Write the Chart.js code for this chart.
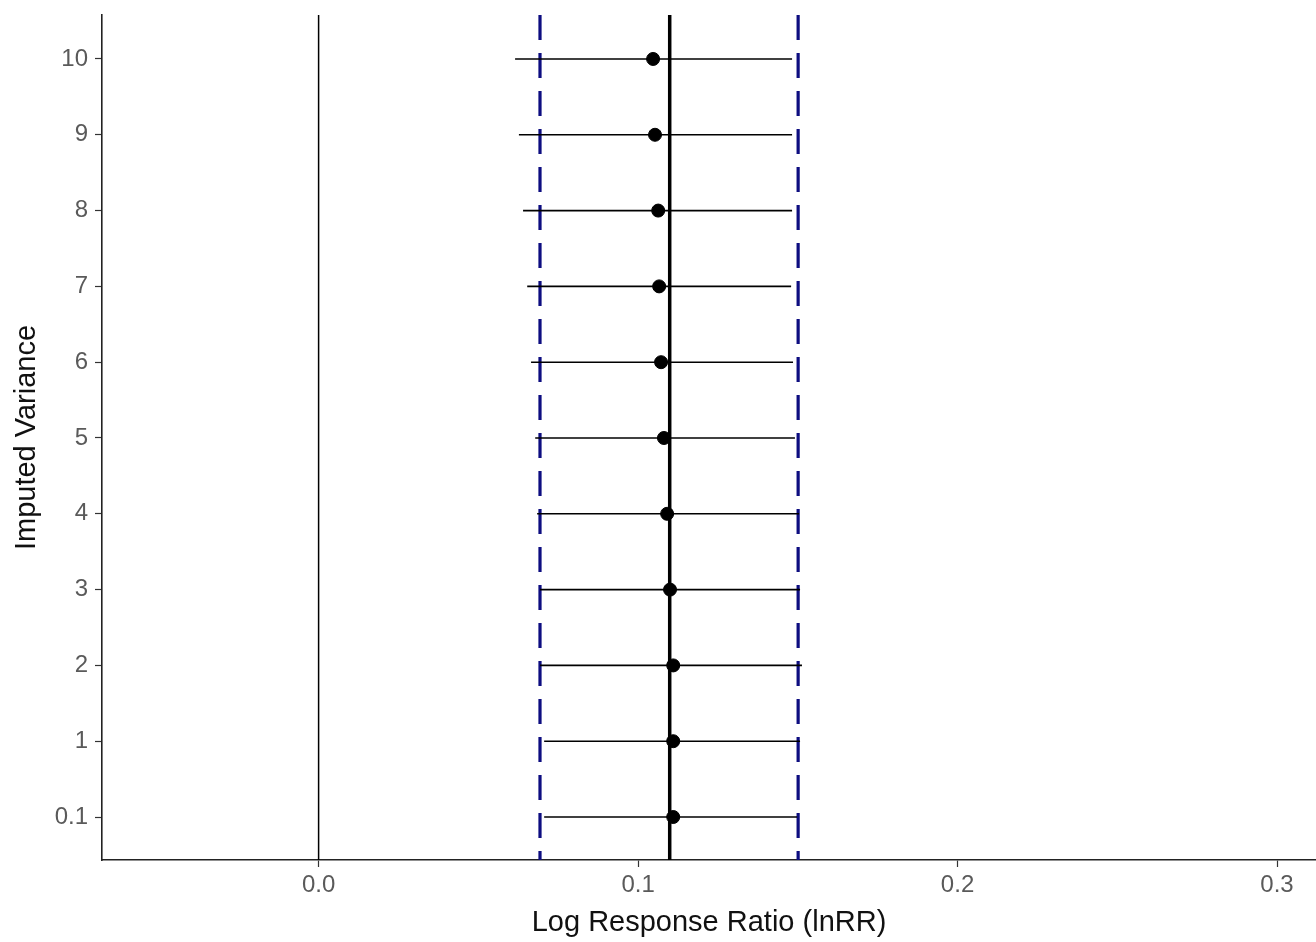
<!DOCTYPE html>
<html>
<head>
<meta charset="utf-8">
<script src="https://cdn.jsdelivr.net/npm/chart.js@4"></script>
<style>
  body { margin: 0; background: #fff; }
  canvas { display: block; }
</style>
</head>
<body>
<canvas id="forest" width="1316" height="942"></canvas>
<script>
// imputed variance levels, bottom to top
const variances = ['0.1', '1', '2', '3', '4', '5', '6', '7', '8', '9', '10'];
const estimates = [0.1110, 0.1110, 0.1110, 0.1100, 0.1091, 0.1081, 0.1072, 0.1066, 0.1063, 0.1053, 0.1047];
const ciLower = [0.0706, 0.0706, 0.0693, 0.0693, 0.0684, 0.0678, 0.0665, 0.0653, 0.0640, 0.0627, 0.0615];
const ciUpper = [0.1498, 0.1507, 0.1513, 0.1507, 0.1504, 0.1491, 0.1485, 0.1479, 0.1482, 0.1482, 0.1482];

// reference lines
const nullEffect = 0;
const pooledEstimate = 0.1099;
const pooledLower = 0.0693;
const pooledUpper = 0.1501;

const xTicks = [0, 0.1, 0.2, 0.3];

const tickFont = { family: 'Liberation Sans, Arial, sans-serif', size: 24 };
const titleFont = { family: 'Liberation Sans, Arial, sans-serif', size: 29 };

// one short line per row for the confidence interval
const ciSets = variances.map((v, i) => ({
    type: 'line',
    data: [{ x: ciLower[i], y: i }, { x: ciUpper[i], y: i }],
    borderColor: '#000',
    borderWidth: 1.6,
    pointRadius: 0,
    order: 2
}));

const vLines = {
    id: 'vLines',
    beforeDatasetsDraw(chart) {
        const { ctx, chartArea, scales } = chart;
        const draw = (val, color, width, dash) => {
            const px = scales.x.getPixelForValue(val);
            ctx.save();
            ctx.strokeStyle = color;
            ctx.lineWidth = width;
            ctx.setLineDash(dash);
            ctx.beginPath();
            ctx.moveTo(px, chartArea.top);
            ctx.lineTo(px, chartArea.bottom);
            ctx.stroke();
            ctx.restore();
        };
        draw(nullEffect, '#000', 1.5, []);
        draw(pooledLower, '#0d0d80', 3.2, [25, 13]);
        draw(pooledUpper, '#0d0d80', 3.2, [25, 13]);
        draw(pooledEstimate, '#000', 3.5, []);
    }
};

new Chart(document.getElementById('forest'), {
    type: 'scatter',
    data: {
        datasets: [
            ...ciSets,
            {
                type: 'scatter',
                data: estimates.map((e, i) => ({ x: e, y: i })),
                backgroundColor: '#000',
                borderColor: '#000',
                pointRadius: 6.5,
                order: 1
            }
        ]
    },
    options: {
        responsive: false,
        animation: false,
        layout: { autoPadding: false, padding: { top: 15, right: 0, left: 0, bottom: 0 } },
        plugins: { legend: { display: false }, tooltip: { enabled: false } },
        scales: {
            x: {
                type: 'linear',
                min: -0.0678,
                max: 0.3122,
                afterBuildTicks: s => { s.ticks = xTicks.map(v => ({ value: v })); },
                afterFit: s => { s.height = 82; s.paddingLeft = 0; s.paddingRight = 0; },
                ticks: {
                    color: '#5a5a5a',
                    font: tickFont,
                    padding: 4,
                    maxRotation: 0,
                    callback: v => v.toFixed(1)
                },
                grid: { drawOnChartArea: false, tickLength: 7, color: '#333', tickWidth: 1.2 },
                border: { color: '#222', width: 1.6 },
                title: {
                    display: true,
                    text: 'Log Response Ratio (lnRR)',
                    color: '#111',
                    font: titleFont,
                    padding: { top: 0, bottom: 2 }
                }
            },
            y: {
                type: 'linear',
                min: -0.567,
                max: 10.58,
                afterBuildTicks: s => { s.ticks = variances.map((v, i) => ({ value: i })); },
                afterFit: s => { s.width = 102; s.paddingTop = 0; s.paddingBottom = 0; },
                ticks: {
                    color: '#5a5a5a',
                    font: tickFont,
                    padding: 7,
                    callback: v => variances[v]
                },
                grid: { drawOnChartArea: false, tickLength: 7, color: '#333', tickWidth: 1.2 },
                border: { color: '#222', width: 1.6 },
                title: {
                    display: true,
                    text: 'Imputed Variance',
                    color: '#111',
                    font: { family: 'Liberation Sans, Arial, sans-serif', size: 29 },
                    padding: { top: 10, bottom: 0 }
                }
            }
        }
    },
    plugins: [vLines]
});
</script>
</body>
</html>
